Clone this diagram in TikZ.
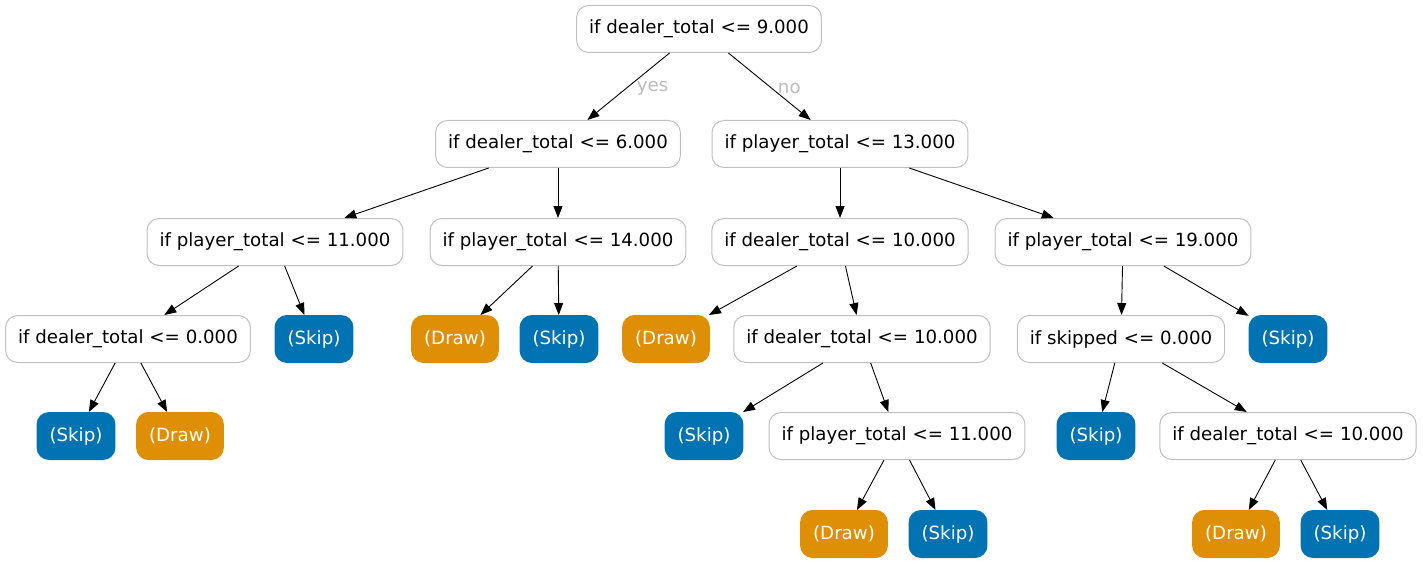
\documentclass[tikz,border=0pt]{standalone}
\usepackage{fontspec}
\setmainfont{DejaVu Sans}
\usetikzlibrary{arrows.meta, positioning}
\definecolor{skipblue}{HTML}{0173B2}
\definecolor{draworange}{HTML}{DE8F05}
\definecolor{boxgray}{HTML}{C0C0C0}
\definecolor{labelgray}{HTML}{BBBBBB}
\tikzset{
  split/.style={draw=boxgray, line width=1pt, fill=white, rounded corners=12pt,
    minimum height=47pt, inner xsep=12.5pt, font=\fontsize{18.2}{22}\selectfont},
  leafbox/.style={split, text=white},
  skipleaf/.style={leafbox, draw=skipblue, fill=skipblue},
  drawleaf/.style={leafbox, draw=draworange, fill=draworange},
  elabel/.style={text=labelgray, inner xsep=8pt, yshift=-2pt, font=\fontsize{18.2}{22}\selectfont}
}

\begin{document}
\begin{tikzpicture}[on grid, >={Triangle[length=12pt,width=9pt]}]
 \useasboundingbox (0,0) rectangle (1423pt,-564pt);
 \node[split] (root) at (699pt,-29pt) {if dealer\_total <= 9.000};
 \node[split] (d6)  [below left=115pt and 141pt of root] {if dealer\_total <= 6.000};
 \node[split] (p13) [below right=115pt and 141pt of root] {if player\_total <= 13.000};
 \node[split] (p11) [below left=98pt and 283pt of d6] {if player\_total <= 11.000};
 \node[split] (p14) [below=98pt of d6] {if player\_total <= 14.000};
 \node[split] (d10a) [below=98pt of p13] {if dealer\_total <= 10.000};
 \node[split] (p19) [below right=98pt and 283pt of p13] {if player\_total <= 19.000};
 \node[split] (d0) [below left=97pt and 147pt of p11] {if dealer\_total <= 0.000};
 \node[skipleaf] (s1) [below right=97pt and 39pt of p11] {(Skip)};
 \node[drawleaf] (dr1) [below left=97pt and 103pt of p14] {(Draw)};
 \node[skipleaf] (s2) [below right=97pt and 1pt of p14] {(Skip)};
 \node[drawleaf] (dr2) [below left=97pt and 174pt of d10a] {(Draw)};
 \node[split] (d10b) [below right=97pt and 22pt of d10a] {if dealer\_total <= 10.000};
 \node[split] (sk) [below left=97pt and 2pt of p19] {if skipped <= 0.000};
 \node[skipleaf] (s3) [below right=97pt and 165pt of p19] {(Skip)};
 \node[skipleaf] (s4) [below left=97pt and 52pt of d0] {(Skip)};
 \node[drawleaf] (dr3) [below right=97pt and 52pt of d0] {(Draw)};
 \node[skipleaf] (s5) [below left=97pt and 158pt of d10b] {(Skip)};
 \node[split] (p11b) [below right=97pt and 35pt of d10b] {if player\_total <= 11.000};
 \node[skipleaf] (s6) [below left=97pt and 25pt of sk] {(Skip)};
 \node[split] (d10c) [below right=97pt and 167pt of sk] {if dealer\_total <= 10.000};
 \node[drawleaf] (dr4) [below left=98pt and 53pt of p11b] {(Draw)};
 \node[skipleaf] (s7) [below right=98pt and 51pt of p11b] {(Skip)};
 \node[drawleaf] (dr5) [below left=98pt and 52pt of d10c] {(Draw)};
 \node[skipleaf] (s8) [below right=98pt and 52pt of d10c] {(Skip)};
  \path[->, line width=0.9pt]
  (root) edge node [elabel, midway, right] {yes} (d6)
         edge node [elabel, midway, right] {no} (p13)
  (d6) edge (p11)
       edge (p14)
  (p13) edge (d10a)
        edge (p19)
  (p11) edge (d0)
        edge (s1)
  (p14) edge (dr1)
        edge (s2)
  (d10a) edge (dr2)
         edge (d10b)
  (p19) edge (sk)
        edge (s3)
  (d0) edge (s4)
       edge (dr3)
  (d10b) edge (s5)
         edge (p11b)
  (sk) edge (s6)
       edge (d10c)
  (p11b) edge (dr4)
         edge (s7)
  (d10c) edge (dr5)
         edge (s8);
\end{tikzpicture}
\end{document}
